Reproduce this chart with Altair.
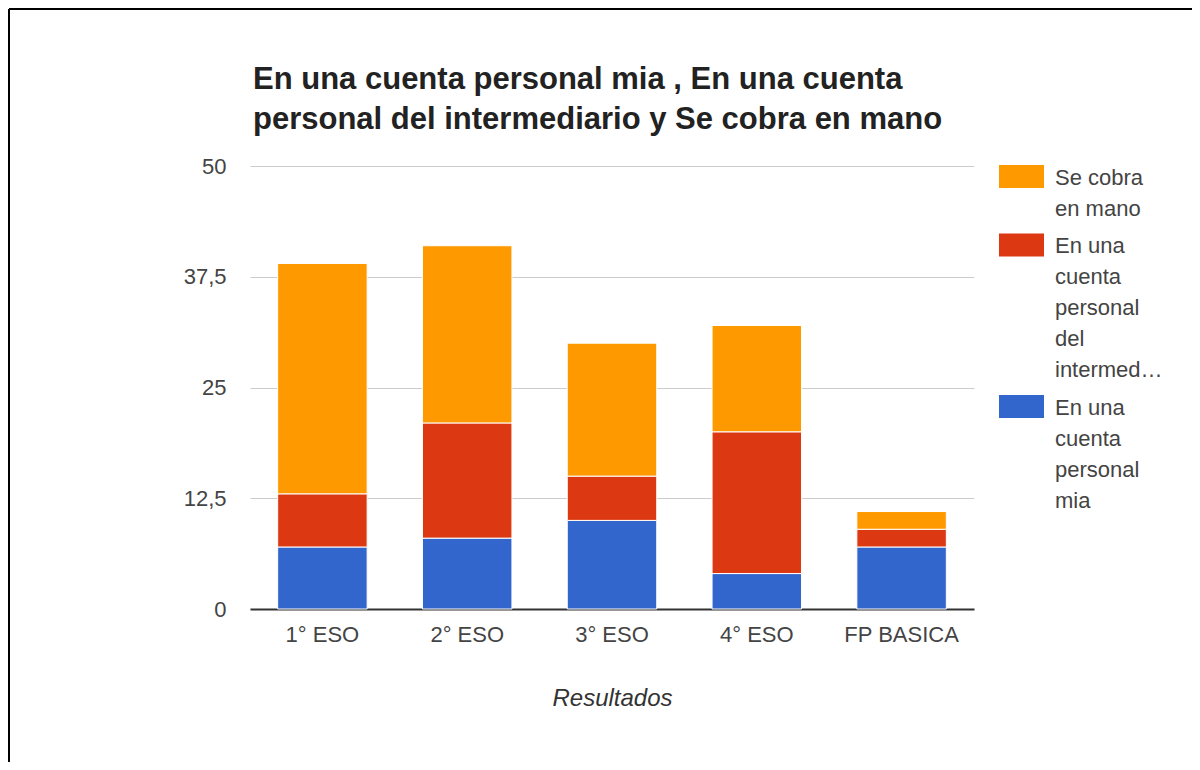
import altair as alt
import pandas as pd

categories = ["1° ESO", "2° ESO", "3° ESO", "4° ESO", "FP BASICA"]
series = ["Se cobra en mano", "En una cuenta personal del intermediario", "En una cuenta personal mia"]
colors = ["#ff9900", "#dc3912", "#3366cc"]
mia = [7, 8, 10, 4, 7]
intermediario = [6, 13, 5, 16, 2]
mano = [26, 20, 15, 12, 2]
y_ticks = [0, 12.5, 25, 37.5, 50]
title_lines = ["En una cuenta personal mia , En una cuenta",
               "personal del intermediario y Se cobra en mano"]

rows = []
for i, c in enumerate(categories):
    rows.append({"cat": c, "serie": series[2], "value": mia[i], "order": 0})
    rows.append({"cat": c, "serie": series[1], "value": intermediario[i], "order": 1})
    rows.append({"cat": c, "serie": series[0], "value": mano[i], "order": 2})
df = pd.DataFrame(rows)

FONT = "Liberation Sans"

label_expr = (
    "datum.label == 'Se cobra en mano' ? ['Se cobra', 'en mano'] : "
    "datum.label == 'En una cuenta personal del intermediario' ? "
    "['En una', 'cuenta', 'personal', 'del', 'intermed…'] : "
    "['En una', 'cuenta', 'personal', 'mia']"
)

bars = alt.Chart(df).mark_bar(stroke="white", strokeWidth=1).encode(
    x=alt.X("cat:N", sort=categories,
            scale=alt.Scale(paddingInner=0.382, paddingOuter=0.191),
            axis=alt.Axis(title="Resultados", titleFontStyle="italic", titleFontWeight="normal",
                          titleFontSize=24, titleColor="#333", titlePadding=41,
                          labelAngle=0, labelFontSize=22, labelColor="#444", labelPadding=15,
                          ticks=False, domainColor="#333", domainWidth=2,
                          labelFont=FONT, titleFont=FONT)),
    y=alt.Y("value:Q", stack="zero",
            scale=alt.Scale(domain=[0, 50], nice=False),
            axis=alt.Axis(title=None, values=y_ticks, ticks=False, domain=False,
                          labelExpr="replace(toString(datum.value), '.', ',')",
                          labelFontSize=22, labelColor="#444", labelPadding=24,
                          gridColor="#cccccc", labelFont=FONT)),
    color=alt.Color("serie:N", scale=alt.Scale(domain=series, range=colors),
                    legend=alt.Legend(title=None, orient="none", legendX=749, legendY=-10,
                                      symbolType="M-1,-0.22H2.913V1.78H-1Z", symbolSize=529,
                                      symbolStrokeWidth=0, labelFontSize=22, labelColor="#444",
                                      labelFont=FONT, labelLimit=300, labelOffset=33,
                                      labelBaseline="top", rowPadding=4.5,
                                      labelExpr=label_expr)),
    order=alt.Order("order:Q"),
)

title = alt.Chart(alt.Data(values=[{}])).mark_text(
    align="left", baseline="alphabetic", font=FONT, fontSize=31, fontWeight="bold",
    color="#222", lineHeight=40
).encode(x=alt.value(3), y=alt.value(-77), text=alt.value(title_lines))

border = alt.Chart(alt.Data(values=[{}])).mark_rule(color="black", strokeWidth=2).encode(
    x=alt.value(-241), x2=alt.value(942), y=alt.value(-157)
)
border_left = alt.Chart(alt.Data(values=[{}])).mark_rule(color="black", strokeWidth=2).encode(
    x=alt.value(-241), y=alt.value(-157), y2=alt.value(596)
)

chart = alt.layer(bars, title, border, border_left).properties(
    width=724, height=443,
    autosize=alt.AutoSizeParams(type="none"),
    padding={"left": 242, "top": 158, "right": 218, "bottom": 153},
).configure(
    view={"stroke": None},
    style={"guide-label": {"lineHeight": 31}},
)

chart.save("out.html", embed_options={"renderer": "svg", "actions": False})
